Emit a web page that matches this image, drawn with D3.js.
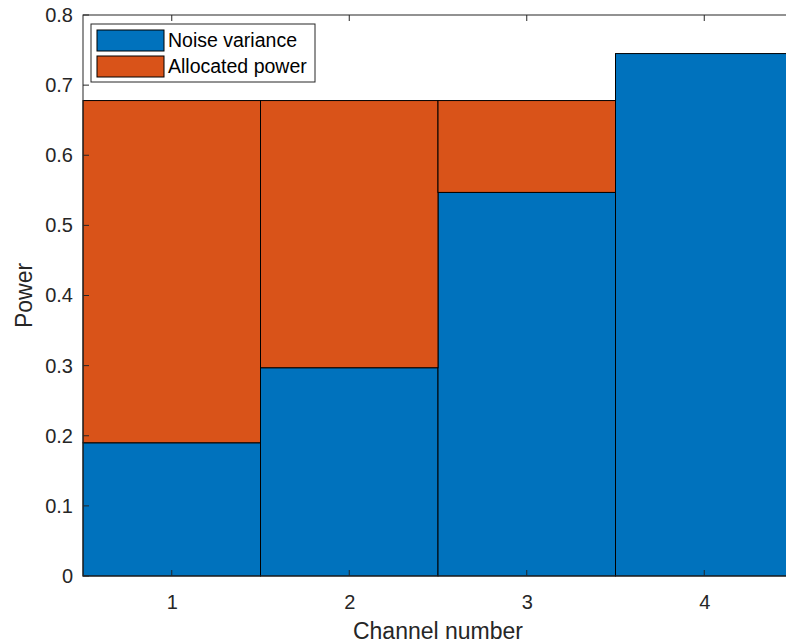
<!DOCTYPE html>
<html>
<head>
<meta charset="utf-8">
<script src="https://cdn.jsdelivr.net/npm/d3@7"></script>
<style>
body { margin: 0; background: #fff; }
text { font-family: Arial, "Liberation Sans", sans-serif; }
</style>
</head>
<body>
<script>
// data
var channels = [1, 2, 3, 4];
var noiseVariance = [0.19, 0.297, 0.547, 0.745];
var allocatedPower = [0.488, 0.381, 0.131, 0];
var yTicks = [0, 0.1, 0.2, 0.3, 0.4, 0.5, 0.6, 0.7, 0.8];
var seriesNames = ["Noise variance", "Allocated power"];
var colors = ["#0072BD", "#D95319"];

var W = 786, H = 643;
var margin = {top: 15, right: -7, bottom: 67, left: 83};
var width = W - margin.left - margin.right;
var height = H - margin.top - margin.bottom;

var svg = d3.select("body").append("svg")
    .attr("width", W)
    .attr("height", H);

var g = svg.append("g")
    .attr("transform", "translate(" + margin.left + "," + margin.top + ")");

var x = d3.scaleLinear().domain([0.5, 4.5]).range([0, width]);
var y = d3.scaleLinear().domain([0, 0.8]).range([height, 0]);

// stack noise + power
var rows = channels.map(function (c, i) {
    return {ch: c, noise: noiseVariance[i], power: allocatedPower[i]};
});
var stack = d3.stack().keys(["noise", "power"]);
var layers = stack(rows);

layers.forEach(function (layer, k) {
    g.selectAll(".bar" + k)
        .data(layer)
        .enter().append("rect")
        .attr("x", function (d) { return x(d.data.ch - 0.5); })
        .attr("y", function (d) { return y(d[1]); })
        .attr("width", x(1.5) - x(0.5))
        .attr("height", function (d) { return y(d[0]) - y(d[1]); })
        .attr("fill", colors[k])
        .attr("stroke", "#000")
        .attr("stroke-width", 1)
        .style("display", function (d) { return d[1] - d[0] > 0 ? null : "none"; });
});

// axes box
g.append("rect")
    .attr("x", 0).attr("y", 0)
    .attr("width", width).attr("height", height)
    .attr("fill", "none")
    .attr("stroke", "#262626")
    .attr("stroke-width", 1);

// x ticks
var xAxis = g.append("g")
    .attr("transform", "translate(0," + height + ")")
    .call(d3.axisBottom(x).tickValues(channels).tickFormat(d3.format("d")).tickSize(0).tickPadding(19));
xAxis.select(".domain").remove();
xAxis.selectAll("text").attr("font-size", 20).attr("fill", "#262626").attr("font-family", "Arial, Liberation Sans, sans-serif");
channels.forEach(function (c) {
    g.append("line").attr("x1", x(c)).attr("x2", x(c)).attr("y1", height).attr("y2", height - 6).attr("stroke", "#262626");
    g.append("line").attr("x1", x(c)).attr("x2", x(c)).attr("y1", 0).attr("y2", 6).attr("stroke", "#262626");
});

// y ticks
var yAxis = g.append("g")
    .call(d3.axisLeft(y).tickValues(yTicks).tickFormat(function (d) { return d === 0 ? "0" : d3.format(".1f")(d); }).tickSize(0).tickPadding(10));
yAxis.select(".domain").remove();
yAxis.selectAll("text").attr("font-size", 20).attr("fill", "#262626").attr("font-family", "Arial, Liberation Sans, sans-serif");
yTicks.forEach(function (t) {
    g.append("line").attr("x1", 0).attr("x2", 6).attr("y1", y(t)).attr("y2", y(t)).attr("stroke", "#262626");
});

// axis labels
svg.append("text")
    .attr("x", margin.left + width / 2)
    .attr("y", 639)
    .attr("text-anchor", "middle")
    .attr("font-size", 23)
    .attr("fill", "#262626")
    .text("Channel number");

svg.append("text")
    .attr("transform", "translate(32," + (margin.top + height / 2) + ") rotate(-90)")
    .attr("text-anchor", "middle")
    .attr("font-size", 23)
    .attr("fill", "#262626")
    .text("Power");

// legend
var leg = svg.append("g").attr("transform", "translate(91,24)");
leg.append("rect")
    .attr("width", 224).attr("height", 58)
    .attr("fill", "#fff").attr("stroke", "#262626").attr("stroke-width", 1);
seriesNames.forEach(function (name, i) {
    leg.append("rect")
        .attr("x", 6).attr("y", 6 + i * 26)
        .attr("width", 67).attr("height", 21)
        .attr("fill", colors[i]).attr("stroke", "#000");
    leg.append("text")
        .attr("x", 77).attr("y", 16.5 + i * 26)
        .attr("dy", "0.35em")
        .attr("font-size", 19.5)
        .attr("fill", "#000")
        .text(name);
});
</script>
</body>
</html>
